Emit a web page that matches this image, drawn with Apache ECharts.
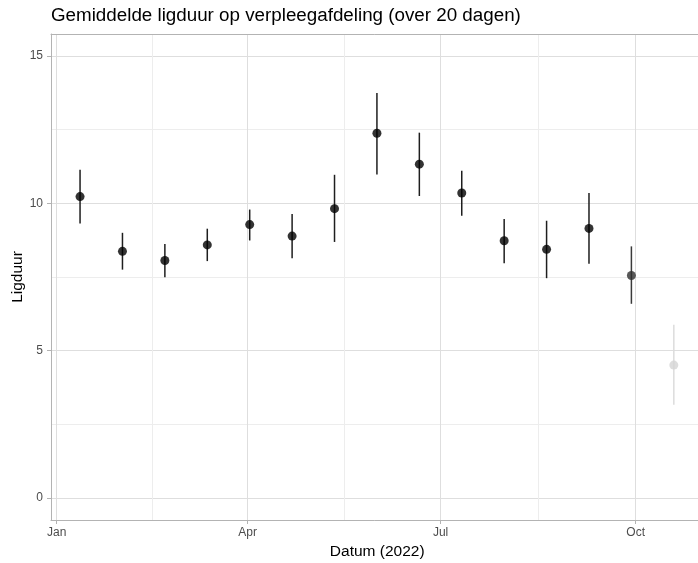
<!DOCTYPE html>
<html>
<head>
<meta charset="utf-8">
<script src="https://cdn.jsdelivr.net/npm/echarts@6/dist/echarts.min.js"></script>
<style>
  html, body { margin: 0; padding: 0; background: #fff; }
  #chart { width: 698px; height: 563px; }
</style>
</head>
<body>
<div id="chart"></div>
<script>
// midpoints of the 20-day periods
const dates = ['2022-01-12', '2022-02-01', '2022-02-21', '2022-03-13', '2022-04-02',
               '2022-04-22', '2022-05-12', '2022-06-01', '2022-06-21', '2022-07-11',
               '2022-07-31', '2022-08-20', '2022-09-09', '2022-09-29', '2022-10-19'];
const meanStay = [10.23, 8.37, 8.06, 8.59, 9.28, 8.89, 9.82, 12.38, 11.33, 10.35, 8.73, 8.44, 9.15, 7.55, 4.51];
const lowerStay = [9.32, 7.75, 7.49, 8.04, 8.74, 8.14, 8.69, 10.98, 10.25, 9.58, 7.97, 7.46, 7.95, 6.59, 3.16];
const upperStay = [11.14, 9.00, 8.62, 9.14, 9.79, 9.64, 10.97, 13.75, 12.40, 11.11, 9.47, 9.41, 10.35, 8.54, 5.88];

const xBreaks = ['2022-01-01', '2022-04-01', '2022-07-01', '2022-10-01'];
const xMinorBreaks = ['2022-02-15', '2022-05-16T12:00:00', '2022-08-16'];
const monthNames = ['Jan', 'Feb', 'Mar', 'Apr', 'May', 'Jun', 'Jul', 'Aug', 'Sep', 'Oct', 'Nov', 'Dec'];
const yBreaks = [0, 5, 10, 15];
const yMinorBreaks = [2.5, 7.5, 12.5];

const DAY = 24 * 3600 * 1000;
function ts(s) {
    return new Date(s + (s.length > 10 ? 'Z' : 'T00:00:00Z')).getTime();
}

// last period is incomplete -> faded, the one before slightly
function pointColor(i) {
    const n = dates.length;
    if (i === n - 1) return '#d4d4d4';
    if (i === n - 2) return '#2e2e2e';
    return '#000';
}
function barColor(i) {
    const n = dates.length;
    if (i === n - 1) return '#dcdcdc';
    if (i === n - 2) return '#3a3a3a';
    return '#1e1e1e';
}

const font = 'Liberation Sans, Arial, sans-serif';
// panel runs a little past the right edge of the picture
const xMin = ts('2022-01-01') - 2.7 * DAY;
const xMax = ts('2022-01-01') + 305 * DAY;

const chart = echarts.init(document.getElementById('chart'), null, { renderer: 'canvas' });

const rangeData = dates.map((d, i) => [ts(d), lowerStay[i], upperStay[i]]);
const pointData = dates.map((d, i) => ({
    value: [ts(d), meanStay[i]],
    itemStyle: { color: pointColor(i) }
}));

chart.setOption({
    animation: false,
    backgroundColor: '#fff',
    title: {
        text: 'Gemiddelde ligduur op verpleegafdeling (over 20 dagen)',
        left: 51,
        top: 6,
        padding: 0,
        textStyle: { fontFamily: font, fontSize: 18.8, fontWeight: 'normal', color: '#000' }
    },
    grid: {
        left: 51,
        top: 34,
        bottom: 43,
        right: -5.5,
        outerBoundsMode: 'none',
        show: false
    },
    xAxis: [
        {
            type: 'value',
            position: 'bottom',
            min: xMin,
            max: xMax,
            name: 'Datum (2022)',
            nameLocation: 'middle',
            nameGap: 24,
            nameTextStyle: { fontFamily: font, fontSize: 15.5, color: '#000' },
            axisLine: { show: true, onZero: false, lineStyle: { color: '#b3b3b3' } },
            axisTick: {
                show: true,
                length: 4,
                customValues: xBreaks.map(ts),
                lineStyle: { color: '#b3b3b3' }
            },
            axisLabel: {
                customValues: xBreaks.map(ts),
                margin: 7,
                fontFamily: font,
                fontSize: 12,
                color: '#4d4d4d',
                formatter: v => monthNames[new Date(v).getUTCMonth()]
            },
            splitLine: { show: true, lineStyle: { color: '#dedede' } }
        },
        {
            // minor grid + top border
            type: 'value',
            position: 'top',
            min: xMin,
            max: xMax,
            axisLine: { show: true, onZero: false, lineStyle: { color: '#b3b3b3' } },
            axisTick: { show: false, customValues: xMinorBreaks.map(ts) },
            axisLabel: { show: false, customValues: xMinorBreaks.map(ts) },
            splitLine: { show: true, lineStyle: { color: '#ededed' } }
        }
    ],
    yAxis: [
        {
            type: 'value',
            position: 'left',
            min: -0.75,
            max: 15.75,
            name: 'Ligduur',
            nameLocation: 'middle',
            nameGap: 25,
            nameMoveOverlap: false,
            nameTextStyle: { fontFamily: font, fontSize: 15.5, color: '#000' },
            axisLine: { show: true, onZero: false, lineStyle: { color: '#b3b3b3' } },
            axisTick: {
                show: true,
                length: 4,
                customValues: yBreaks,
                lineStyle: { color: '#b3b3b3' }
            },
            axisLabel: {
                customValues: yBreaks,
                margin: 8,
                fontFamily: font,
                fontSize: 12,
                color: '#4d4d4d'
            },
            splitLine: { show: true, lineStyle: { color: '#dedede' } }
        },
        {
            type: 'value',
            position: 'right',
            min: -0.75,
            max: 15.75,
            axisLine: { show: false, onZero: false },
            axisTick: { show: false, customValues: yMinorBreaks },
            axisLabel: { show: false, customValues: yMinorBreaks },
            splitLine: { show: true, lineStyle: { color: '#ededed' } }
        }
    ],
    series: [
        {
            type: 'custom',
            xAxisIndex: 0,
            yAxisIndex: 0,
            data: rangeData,
            encode: { x: 0, y: [1, 2] },
            renderItem: function (params, api) {
                const lo = api.coord([api.value(0), api.value(1)]);
                const hi = api.coord([api.value(0), api.value(2)]);
                return {
                    type: 'line',
                    shape: { x1: lo[0], y1: lo[1], x2: hi[0], y2: hi[1] },
                    style: { stroke: barColor(params.dataIndex), lineWidth: 1.5 }
                };
            },
            z: 2
        },
        {
            type: 'scatter',
            xAxisIndex: 0,
            yAxisIndex: 0,
            symbol: 'circle',
            symbolSize: 9,
            data: pointData,
            z: 3
        }
    ]
});
</script>
</body>
</html>
